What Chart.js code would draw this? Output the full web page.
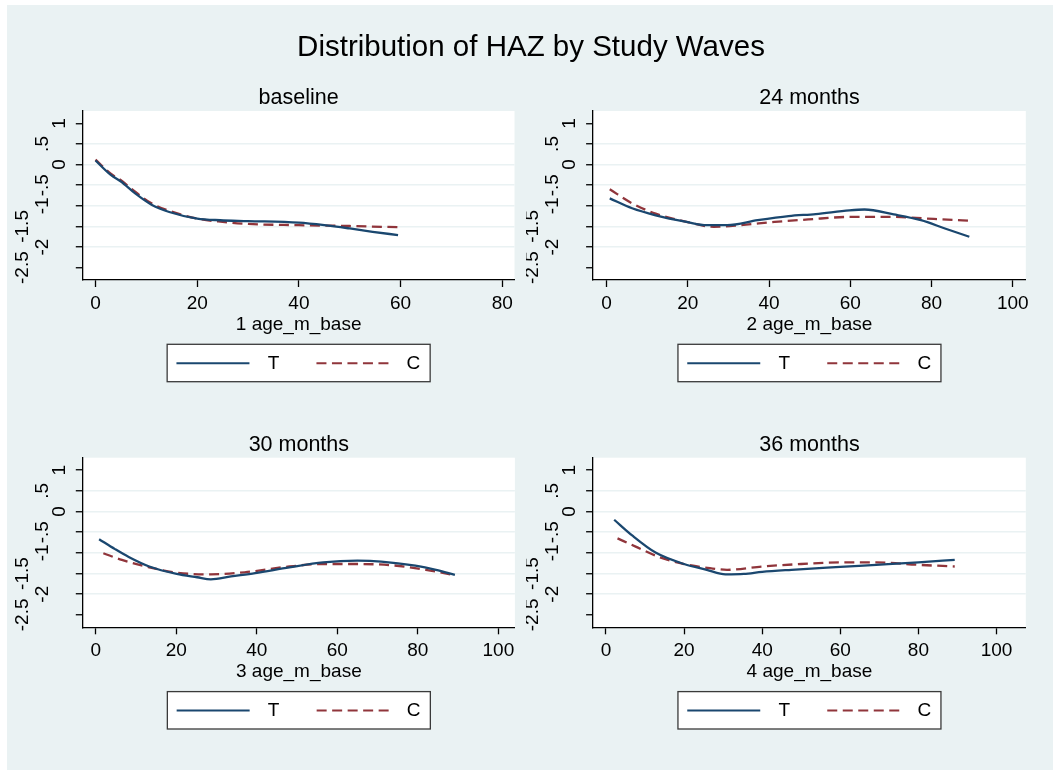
<!DOCTYPE html>
<html>
<head>
<meta charset="utf-8">
<script src="https://cdn.jsdelivr.net/npm/chart.js@4.4.1/dist/chart.umd.min.js"></script>
<style>
  html, body { margin: 0; padding: 0; background: #fff; overflow: hidden; }
  #bg { position: fixed; left: 7px; top: 5px; right: 0; bottom: 0; background: #eaf2f3; }
  #title { position: absolute; left: 0; top: 30.5px; width: 1062px; text-align: center;
           font: 29.5px "Liberation Sans", Arial, sans-serif; line-height: 29.5px; color: #000; }
  canvas { position: absolute; }
</style>
</head>
<body>
<div id="bg"></div>
<div id="title">Distribution of HAZ by Study Waves</div>
<canvas id="c0" width="526" height="310"></canvas>
<canvas id="c1" width="527" height="310"></canvas>
<canvas id="c2" width="526" height="310"></canvas>
<canvas id="c3" width="527" height="310"></canvas>
<script>
// tick labels and titles
const yTickValues = [1, 0.5, 0, -0.5, -1, -1.5, -2, -2.5];
const yTickLabels = ['1', '.5', '0', '-.5', '-1', '-1.5', '-2', '-2.5'];
const xTicksBase = [0, 20, 40, 60, 80];
const xTicksLater = [0, 20, 40, 60, 80, 100];
const waveTitles = ['baseline', '24 months', '30 months', '36 months'];
const ageTitles = ['1 age_m_base', '2 age_m_base', '3 age_m_base', '4 age_m_base'];
const groups = ['T', 'C'];

// baseline
const ageT1 = [0, 3, 5, 7.8, 11.1, 14.5, 20, 24.5, 30, 40, 45, 50, 54.5, 59.5];
const hazT1 = [0.1, -0.25, -0.41, -0.70, -0.98, -1.15, -1.31, -1.35, -1.37, -1.41, -1.47, -1.55, -1.63, -1.71];
const ageC1 = [0, 3, 5, 7.8, 11, 14.5, 20, 25, 30, 40, 50, 59.5];
const hazC1 = [0.12, -0.22, -0.38, -0.66, -0.94, -1.12, -1.31, -1.39, -1.44, -1.47, -1.49, -1.52];
// 24 months
const ageT2 = [0.8, 6.3, 12.1, 19.7, 24.7, 29.7, 37.2, 44.8, 51.5, 59.8, 63.5, 70.7, 77.4, 83.3, 89.3];
const hazT2 = [-0.82, -1.06, -1.23, -1.39, -1.47, -1.47, -1.35, -1.25, -1.20, -1.11, -1.09, -1.21, -1.35, -1.55, -1.75];
const ageC2 = [0.8, 6.3, 12.1, 19.7, 26.4, 33, 41.4, 49.8, 59.8, 70.7, 79, 89.3];
const hazC2 = [-0.60, -0.94, -1.19, -1.39, -1.51, -1.47, -1.39, -1.33, -1.27, -1.27, -1.31, -1.36];
// 30 months
const ageT3 = [0.85, 4.8, 8.2, 13.3, 20.1, 25.2, 28.6, 33.6, 39.6, 48.1, 56.5, 65, 70.9, 79.4, 84.5, 89.2];
const hazT3 = [-0.67, -0.91, -1.10, -1.33, -1.51, -1.59, -1.64, -1.57, -1.49, -1.35, -1.23, -1.19, -1.21, -1.31, -1.41, -1.53];
const ageC3 = [1.9, 6.5, 13.3, 20.1, 28.6, 37, 48.1, 56.5, 65, 73.5, 82, 89.2];
const hazC3 = [-1.01, -1.17, -1.35, -1.48, -1.52, -1.47, -1.33, -1.27, -1.27, -1.30, -1.41, -1.54];
// 36 months
const ageT4 = [2.1, 6.7, 12.8, 20, 25.8, 30.6, 35.3, 40, 47.5, 60, 69.2, 80, 89.3];
const hazT4 = [-0.20, -0.58, -1.00, -1.27, -1.41, -1.52, -1.51, -1.46, -1.41, -1.34, -1.29, -1.23, -1.17];
const ageC4 = [2.95, 7.6, 13.6, 20, 26.6, 31, 40, 50, 60, 69.2, 80, 89.3];
const hazC4 = [-0.65, -0.85, -1.10, -1.27, -1.37, -1.41, -1.33, -1.27, -1.23, -1.23, -1.29, -1.33];

const seriesT = [[ageT1, hazT1], [ageT2, hazT2], [ageT3, hazT3], [ageT4, hazT4]];
const seriesC = [[ageC1, hazC1], [ageC2, hazC2], [ageC3, hazC3], [ageC4, hazC4]];
const xTicksPerPanel = [xTicksBase, xTicksLater, xTicksLater, xTicksLater];

// layout of the four panels (page pixels)
const panels = [
  { cx: 0,   cy: 80,  cw: 526, ch: 310, l: 82.8,  t: 111,   r: 514.5,  b: 280,   xMin: -2.5, xMax: 82.4 },
  { cx: 526, cy: 80,  cw: 527, ch: 310, l: 593.1, t: 111,   r: 1025.8, b: 280,   xMin: -3.3, xMax: 103.2 },
  { cx: 0,   cy: 426, cw: 526, ch: 310, l: 82.8,  t: 457.7, r: 514.9,  b: 627.3, xMin: -3.2, xMax: 104.1 },
  { cx: 526, cy: 426, cw: 527, ch: 310, l: 593.1, t: 457.7, r: 1025.8, b: 627.3, xMin: -3.3, xMax: 107.5 }
];
const yLabelLane = [0, 1, 0, 1, 1, 2, 1, 2];   // Stata staggers the rotated labels
const laneOffset = [23, 40, 60];

const FAMILY = '"Liberation Sans", Arial, sans-serif';
const navy = '#1a476f';
const maroon = '#90353b';
Chart.defaults.font.family = FAMILY;

const decor = {
  id: 'decor',
  beforeDraw(chart) {
    const a = chart.chartArea, c = chart.ctx;
    c.save();
    c.fillStyle = '#fff';
    c.fillRect(a.left, a.top, a.right - a.left, a.bottom - a.top);
    c.restore();
  },
  afterDraw(chart, args, opts) {
    const a = chart.chartArea, c = chart.ctx, mid = (a.left + a.right) / 2;
    c.save();
    c.fillStyle = '#000';
    c.textAlign = 'center';
    c.textBaseline = 'alphabetic';
    c.font = '21.5px ' + FAMILY;
    c.fillText(opts.title, mid, a.top - 7);
    c.font = '19px ' + FAMILY;
    c.fillText(opts.xTitle, mid, a.bottom + 50);

    // rotated y labels
    const ys = chart.scales.y;
    c.textBaseline = 'middle';
    yTickValues.forEach((v, i) => {
      c.save();
      c.translate(a.left - laneOffset[yLabelLane[i]], ys.getPixelForValue(v));
      c.rotate(-Math.PI / 2);
      c.fillText(yTickLabels[i], 0, 0);
      c.restore();
    });

    // boxed legend
    const bx = mid - 131.5, by = a.bottom + 64.3, bw = 263, bh = 37.4, ly = by + 19;
    c.fillStyle = '#fff';
    c.fillRect(bx, by, bw, bh);
    c.strokeStyle = '#3a3a3a';
    c.lineWidth = 1.3;
    c.strokeRect(bx, by, bw, bh);
    chart.data.datasets.forEach((ds, i) => {
      const x0 = bx + (i === 0 ? 9.3 : 149.3);
      c.beginPath();
      c.setLineDash(ds.borderDash || []);
      c.strokeStyle = ds.borderColor;
      c.lineWidth = 2;
      c.moveTo(x0, ly);
      c.lineTo(x0 + 73, ly);
      c.stroke();
      c.setLineDash([]);
      c.fillStyle = '#000';
      c.fillText(ds.label, x0 + 97, ly);
    });
    c.restore();
  }
};

panels.forEach((p, k) => {
  const cv = document.getElementById('c' + k);
  cv.style.left = p.cx + 'px';
  cv.style.top = p.cy + 'px';
  const xt = xTicksPerPanel[k];
  const toPts = s => s[0].map((x, i) => ({ x: x, y: s[1][i] }));
  new Chart(cv, {
    type: 'line',
    data: {
      datasets: [
        { label: groups[0], data: toPts(seriesT[k]), borderColor: navy, borderWidth: 2.3,
          pointRadius: 0, cubicInterpolationMode: 'monotone', fill: false },
        { label: groups[1], data: toPts(seriesC[k]), borderColor: maroon, borderWidth: 2.3,
          borderDash: [10, 5.5], pointRadius: 0, cubicInterpolationMode: 'monotone', fill: false }
      ]
    },
    options: {
      responsive: false,
      devicePixelRatio: 1,
      animation: false,
      events: [],
      layout: {
        autoPadding: false,
        padding: { left: 0, bottom: 0, top: p.t - p.cy, right: p.cx + p.cw - p.r }
      },
      plugins: {
        legend: { display: false },
        tooltip: { enabled: false },
        decor: { title: waveTitles[k], xTitle: ageTitles[k] }
      },
      scales: {
        x: {
          type: 'linear',
          min: p.xMin,
          max: p.xMax,
          afterBuildTicks: s => { s.ticks = xt.map(v => ({ value: v })); },
          afterFit: s => { s.height = p.cy + p.ch - p.b; },
          grid: { drawOnChartArea: false, drawTicks: true, tickLength: 7, tickColor: '#000', tickWidth: 1.3 },
          border: { display: true, color: '#000', width: 1.3 },
          ticks: { color: '#000', font: { size: 19 }, padding: 5, maxRotation: 0, autoSkip: false }
        },
        y: {
          type: 'linear',
          min: -2.8,
          max: 1.3,
          afterBuildTicks: s => { s.ticks = yTickValues.slice().sort((a, b) => a - b).map(v => ({ value: v })); },
          afterFit: s => { s.width = p.l - p.cx; },
          grid: {
            color: c => (c.index === 0 || c.index === yTickValues.length - 1) ? 'rgba(0,0,0,0)' : '#eaf2f3',
            lineWidth: 1.5, drawTicks: true, tickLength: 7, tickColor: '#000', tickWidth: 1.3
          },
          border: { display: true, color: '#000', width: 1.3 },
          ticks: { display: false }
        }
      }
    },
    plugins: [decor]
  });
});
</script>
</body>
</html>
